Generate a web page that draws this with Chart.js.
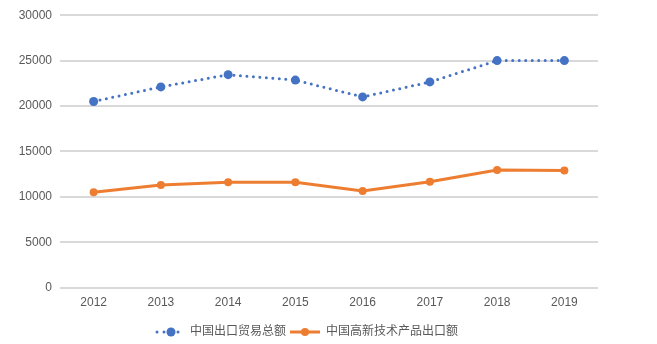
<!DOCTYPE html>
<html>
<head>
<meta charset="utf-8">
<script src="https://cdn.jsdelivr.net/npm/chart.js@4"></script>
<style>
  html, body { margin: 0; padding: 0; background: #fff; }
  #wrap { width: 657px; height: 344px; position: relative; }
</style>
</head>
<body>
<div id="wrap"><canvas id="chart"></canvas></div>
<script>
// chart data
const years = ['2012', '2013', '2014', '2015', '2016', '2017', '2018', '2019'];
const exportTotal = [20500, 22100, 23450, 22850, 21000, 22650, 25000, 25000];
const hiTechExport = [10500, 11300, 11600, 11600, 10650, 11650, 12950, 12900];
const seriesNames = ['中国出口贸易总额', '中国高新技术产品出口额'];

const blue = '#4472C4';
const orange = '#ED7D31';

// small images used as legend markers (line + point)
function legendIcon(color, dotted) {
    const c = document.createElement('canvas');
    c.width = 30; c.height = 12;
    const g = c.getContext('2d');
    g.fillStyle = color;
    g.strokeStyle = color;
    if (dotted) {
        [3, 10, 24].forEach(x => {
            g.beginPath(); g.arc(x, 6, 1.5, 0, Math.PI * 2); g.fill();
        });
        g.beginPath(); g.arc(17, 6, 4.5, 0, Math.PI * 2); g.fill();
    } else {
        g.lineWidth = 3;
        g.beginPath(); g.moveTo(0, 6); g.lineTo(30, 6); g.stroke();
        g.beginPath(); g.arc(15, 6, 4, 0, Math.PI * 2); g.fill();
    }
    return c;
}
const icons = [legendIcon(blue, true), legendIcon(orange, false)];

// nudge the legend to where the original has it
const legendShift = {
    id: 'legendShift',
    afterLayout(chart) {
        const l = chart.legend;
        l.left += 7; l.right += 7;
        l.top += 8; l.bottom += 8;
    }
};

Chart.defaults.font.family = "'Liberation Sans', Arial, 'Noto Sans CJK SC', sans-serif";
Chart.defaults.color = '#595959';

new Chart(document.getElementById('chart'), {
    type: 'line',
    data: {
        labels: years,
        datasets: [{
            label: seriesNames[0],
            data: exportTotal,
            borderColor: blue,
            backgroundColor: blue,
            borderWidth: 3,
            borderDash: [0, 6.5],
            borderCapStyle: 'round',
            pointRadius: 4.5,
            pointBorderWidth: 0,
            pointHoverRadius: 4.5,
            tension: 0
        }, {
            label: seriesNames[1],
            data: hiTechExport,
            borderColor: orange,
            backgroundColor: orange,
            borderWidth: 3,
            pointRadius: 4,
            pointBorderWidth: 0,
            pointHoverRadius: 4,
            tension: 0
        }]
    },
    options: {
        responsive: true,
        maintainAspectRatio: false,
        animation: false,
        layout: { padding: { left: 0, right: 59, top: 10, bottom: 4 } },
        scales: {
            x: {
                offset: true,
                grid: { display: false },
                border: { display: false },
                ticks: { font: { size: 12 }, padding: 0 },
                afterFit: s => { s.height += 4; }
            },
            y: {
                min: 0,
                max: 30000,
                ticks: { stepSize: 5000, font: { size: 12 }, padding: 8, callback: v => String(v) },
                grid: { color: '#d9d9d9', lineWidth: 2, drawTicks: false },
                border: { display: false },
                afterFit: s => { s.width = 60; }
            }
        },
        plugins: {
            legend: {
                position: 'bottom',
                labels: {
                    usePointStyle: true,
                    pointStyleWidth: 30,
                    boxHeight: 12,
                    padding: 4,
                    font: { size: 12 },
                    color: '#595959',
                    generateLabels: chart => chart.data.datasets.map((d, i) => ({
                        text: d.label,
                        pointStyle: icons[i],
                        fillStyle: d.borderColor,
                        strokeStyle: d.borderColor,
                        lineWidth: 0,
                        fontColor: '#595959',
                        datasetIndex: i
                    }))
                }
            },
            tooltip: { enabled: false }
        }
    },
    plugins: [legendShift]
});
</script>
</body>
</html>
